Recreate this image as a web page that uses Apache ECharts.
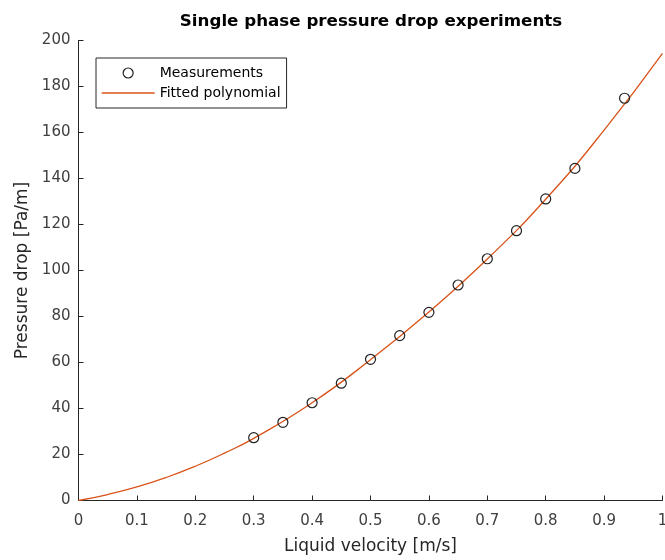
<!DOCTYPE html>
<html>
<head>
<meta charset="utf-8">
<script src="https://cdn.jsdelivr.net/npm/echarts@6/dist/echarts.min.js"></script>
<style>
  html, body { margin: 0; padding: 0; background: #fff; }
  #chart { width: 665px; height: 560px; }
</style>
</head>
<body>
<div id="chart"></div>
<script>
// Measured liquid velocity [m/s] and pressure drop [Pa/m]
const velocity = [0.30, 0.35, 0.40, 0.45, 0.50, 0.55, 0.60, 0.65, 0.70, 0.75, 0.80, 0.85, 0.935];
const pressureDrop = [27.3, 34.0, 42.5, 51.0, 61.4, 71.7, 81.8, 93.7, 105.1, 117.3, 131.1, 144.4, 174.9];

// Fitted polynomial curve, sampled along the velocity range
const fitVelocity = [0, 0.05, 0.1, 0.15, 0.2, 0.25, 0.3, 0.4, 0.5, 0.6, 0.7, 0.8, 0.9, 1.0];
const fitPressure = [0, 2.6, 5.9, 10.0, 14.9, 20.6, 27.0, 42.5, 61.2, 82.0, 105.0, 131.0, 161.0, 194.4];

// Axis ticks
const xTicks = ['0', '0.1', '0.2', '0.3', '0.4', '0.5', '0.6', '0.7', '0.8', '0.9', '1'];
const yTicks = ['0', '20', '40', '60', '80', '100', '120', '140', '160', '180', '200'];

const axisColor = '#262626';
const markerColor = '#222';
const fitColor = '#D95319';
const font = 'DejaVu Sans, Verdana, sans-serif';

const chart = echarts.init(document.getElementById('chart'), null, { renderer: 'canvas' });

chart.setOption({
  animation: false,
  backgroundColor: '#fff',
  title: {
    text: 'Single phase pressure drop experiments',
    left: 366,
    top: 8,
    textAlign: 'center',
    textStyle: { fontFamily: font, fontSize: 16.7, fontWeight: 'bold', color: '#000' }
  },
  legend: {
    orient: 'vertical',
    left: 96,
    top: 58,
    padding: [8, 6, 8, 5],
    itemWidth: 53,
    itemHeight: 10,
    itemGap: 6,
    borderColor: axisColor,
    borderWidth: 1,
    borderRadius: 0,
    backgroundColor: '#fff',
    textStyle: { fontFamily: font, fontSize: 14, color: '#000' },
    data: [
      {
        name: 'Measurements',
        icon: 'circle',
        itemStyle: { color: 'rgba(0,0,0,0)', borderColor: markerColor, borderWidth: 1.2 }
      },
      {
        name: 'Fitted polynomial',
        itemStyle: { color: 'rgba(0,0,0,0)', borderColor: 'rgba(0,0,0,0)', borderWidth: 0, opacity: 0 },
        lineStyle: { color: fitColor, width: 1.3, opacity: 1 }
      }
    ]
  },
  grid: {
    left: 78.5, right: 2.5, top: 40.5, bottom: 59.5,
    containLabel: false,
    outerBoundsMode: 'none'
  },
  xAxis: {
    type: 'value',
    min: 0,
    max: 1,
    interval: 0.1,
    name: 'Liquid velocity [m/s]',
    nameLocation: 'middle',
    nameGap: 38,
    nameTextStyle: { fontFamily: font, fontSize: 17, color: axisColor },
    axisLine: { lineStyle: { color: axisColor, width: 1 } },
    axisTick: { inside: true, length: 5, lineStyle: { color: axisColor } },
    axisLabel: {
      fontFamily: font, fontSize: 15, color: '#404040', margin: 13,
      formatter: (v) => xTicks[Math.round(v * 10)]
    },
    splitLine: { show: false }
  },
  yAxis: {
    type: 'value',
    min: 0,
    max: 200,
    interval: 20,
    name: 'Pressure drop [Pa/m]',
    nameLocation: 'middle',
    nameGap: 45,
    nameTextStyle: { fontFamily: font, fontSize: 17, color: axisColor },
    axisLine: { show: true, lineStyle: { color: axisColor, width: 1 } },
    axisTick: { show: true, inside: true, length: 5, lineStyle: { color: axisColor } },
    axisLabel: {
      fontFamily: font, fontSize: 15, color: '#404040', margin: 8,
      formatter: (v) => yTicks[Math.round(v / 20)]
    },
    splitLine: { show: false }
  },
  series: [
    {
      name: 'Fitted polynomial',
      type: 'line',
      data: fitVelocity.map((v, i) => [v, fitPressure[i]]),
      smooth: 0.5,
      showSymbol: false,
      symbol: 'none',
      lineStyle: { color: fitColor, width: 1.3 },
      itemStyle: { color: fitColor },
      z: 2
    },
    {
      name: 'Measurements',
      type: 'scatter',
      data: velocity.map((v, i) => [v, pressureDrop[i]]),
      symbol: 'circle',
      symbolSize: 10,
      itemStyle: { color: 'rgba(0,0,0,0)', borderColor: markerColor, borderWidth: 1.2, opacity: 1 },
      z: 3
    }
  ]
});
</script>
</body>
</html>
